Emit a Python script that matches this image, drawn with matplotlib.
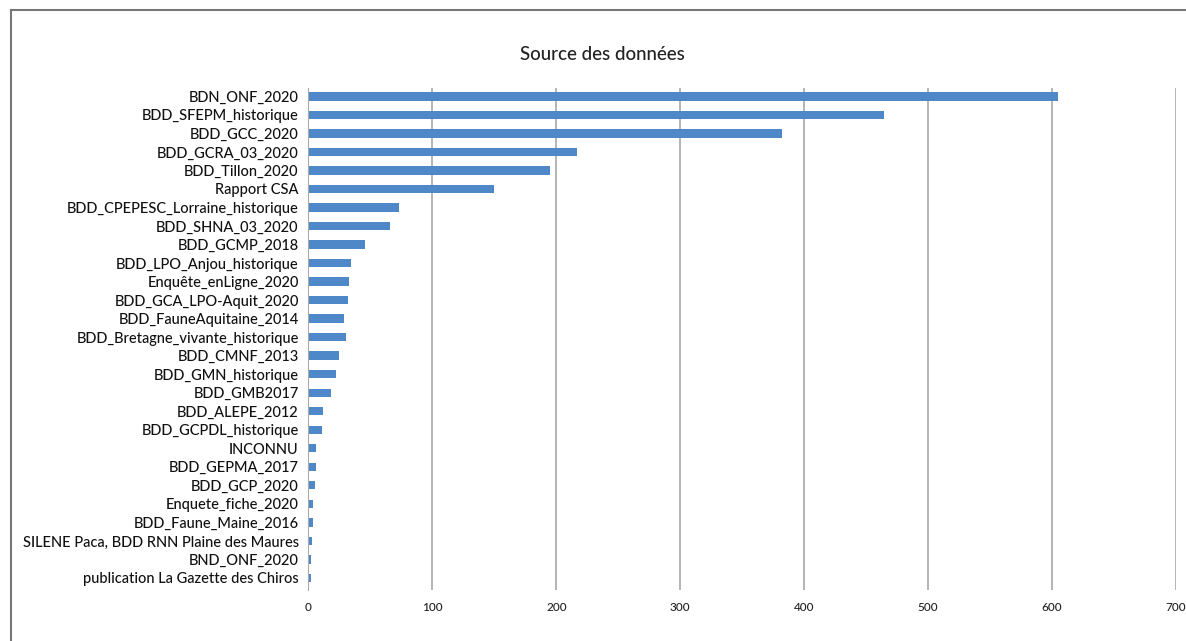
import matplotlib.pyplot as plt
from matplotlib.lines import Line2D

sources = [
    "BDN_ONF_2020",
    "BDD_SFEPM_historique",
    "BDD_GCC_2020",
    "BDD_GCRA_03_2020",
    "BDD_Tillon_2020",
    "Rapport CSA",
    "BDD_CPEPESC_Lorraine_historique",
    "BDD_SHNA_03_2020",
    "BDD_GCMP_2018",
    "BDD_LPO_Anjou_historique",
    "Enquête_enLigne_2020",
    "BDD_GCA_LPO-Aquit_2020",
    "BDD_FauneAquitaine_2014",
    "BDD_Bretagne_vivante_historique",
    "BDD_CMNF_2013",
    "BDD_GMN_historique",
    "BDD_GMB2017",
    "BDD_ALEPE_2012",
    "BDD_GCPDL_historique",
    "INCONNU",
    "BDD_GEPMA_2017",
    "BDD_GCP_2020",
    "Enquete_fiche_2020",
    "BDD_Faune_Maine_2016",
    "SILENE Paca, BDD RNN Plaine des Maures",
    "BND_ONF_2020",
    "publication La Gazette des Chiros",
]
counts = [605, 464, 382, 217, 195, 150, 73, 66, 46, 34, 33, 32, 29, 30,
          25, 22, 18, 12, 11, 6, 6, 5, 4, 4, 3, 2, 2]
xticks = [0, 100, 200, 300, 400, 500, 600, 700]

plt.rcParams['font.family'] = ['Lato', 'DejaVu Sans']

fig = plt.figure(figsize=(11.86, 6.41), dpi=100)
ax = fig.add_axes([0.26, 0.0796, 0.7316, 0.7831])

pos = list(range(len(sources)))
ax.barh(pos, counts, height=0.45, color='#4e88c8', zorder=3)
ax.set_ylim(26.65, -0.45)
ax.set_xlim(0, 700)
ax.set_yticks(pos)
ax.set_yticklabels(sources, fontsize=10.5, color='#111111', fontweight='medium')
ax.set_xticks(xticks)
ax.set_xticklabels([str(t) for t in xticks], fontsize=8.5, color='#222222',
                   fontweight='medium')
ax.tick_params(axis='both', length=0)
ax.tick_params(axis='y', pad=7)
ax.tick_params(axis='x', pad=9)
ax.grid(axis='x', color='#a8a8a8', linewidth=1.2, zorder=0)
for s in ['top', 'right', 'bottom']:
    ax.spines[s].set_visible(False)
ax.spines['left'].set_color('#aaaaaa')
ax.spines['left'].set_zorder(4)

fig.text(0.508, 0.915, "Source des données", ha='center', va='center',
         fontsize=13.5, color='#222222', fontweight='medium')

# outer frame
fig.add_artist(Line2D([11 / 1186, 11 / 1186], [0, 1 - 10 / 641],
                      transform=fig.transFigure, color='#777777', lw=1.5))
fig.add_artist(Line2D([11 / 1186, 1], [1 - 10 / 641, 1 - 10 / 641],
                      transform=fig.transFigure, color='#777777', lw=1.5))

fig.savefig('out.png', dpi=100)
